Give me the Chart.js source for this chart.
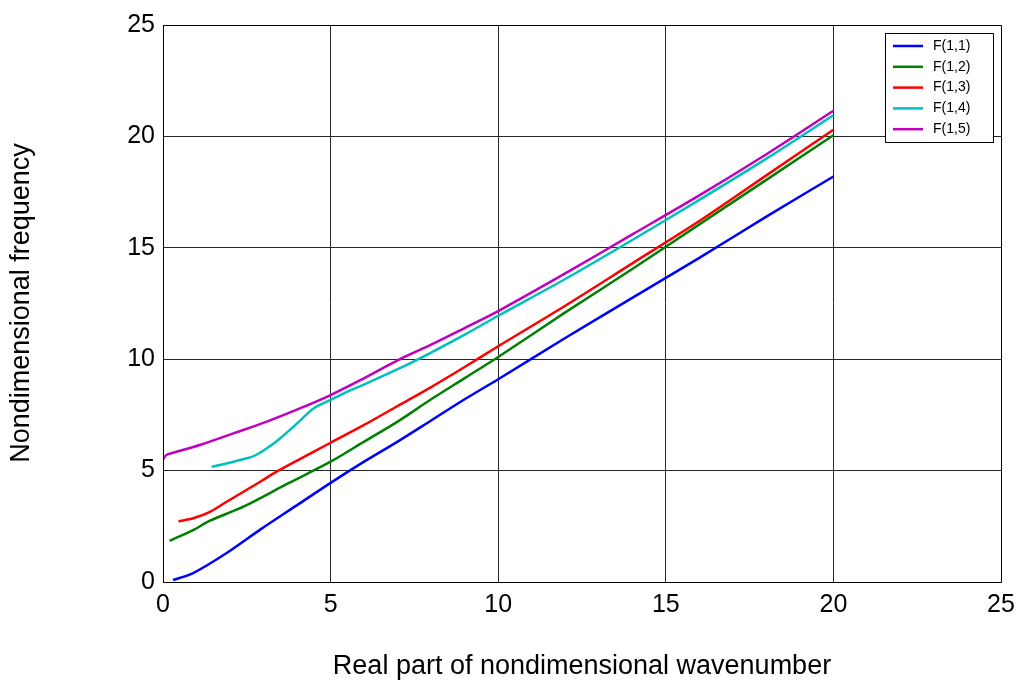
<!DOCTYPE html>
<html>
<head>
<meta charset="utf-8">
<script src="https://cdn.jsdelivr.net/npm/chart.js@4/dist/chart.umd.min.js"></script>
<style>
  html, body { margin: 0; padding: 0; background: #fff; }
  #wrap { width: 1019px; height: 684px; }
</style>
</head>
<body>
<div id="wrap"><canvas id="freqChart"></canvas></div>
<script>
// values
const xTicks = [0, 5, 10, 15, 20, 25];
const yTicks = [0, 5, 10, 15, 20, 25];

const labels = ["F(1,1)", "F(1,2)", "F(1,3)", "F(1,4)", "F(1,5)"];
const colors = ["#0000ff", "#008000", "#ff0000", "#00bfbf", "#bf00bf"];

const f11x = [0.3, 0.9, 1.9, 2.9, 4, 5, 6, 7, 8, 9, 10, 12, 14, 16, 18, 20];
const f11y = [0.09, 0.4, 1.3, 2.35, 3.45, 4.45, 5.4, 6.3, 7.25, 8.2, 9.1, 10.95, 12.75, 14.55, 16.4, 18.2];

const f12x = [0.2, 0.9, 1.4, 2.4, 3.7, 5, 6, 7, 8, 9, 10, 12, 14, 16, 18, 20];
const f12y = [1.85, 2.33, 2.75, 3.38, 4.4, 5.4, 6.3, 7.2, 8.2, 9.15, 10.1, 12.1, 14.05, 16.05, 18.05, 20.05];

const f13x = [0.46, 0.9, 1.4, 1.9, 2.4, 2.9, 3.35, 4, 5, 6, 7, 8, 9, 10, 12, 14, 16, 18, 20];
const f13y = [2.72, 2.86, 3.15, 3.6, 4.05, 4.5, 4.92, 5.45, 6.25, 7.05, 7.9, 8.75, 9.65, 10.58, 12.4, 14.3, 16.2, 18.25, 20.3];

const f14x = [1.45, 2.1, 2.7, 3.1, 3.5, 4, 4.5, 5, 5.5, 5.9, 7, 8, 9, 10, 12, 14, 16, 18, 20];
const f14y = [5.17, 5.4, 5.65, 6.0, 6.45, 7.12, 7.8, 8.17, 8.54, 8.8, 9.55, 10.3, 11.1, 11.95, 13.6, 15.35, 17.15, 19.0, 20.95];

const f15x = [0, 0.1, 0.3, 1.1, 2.1, 3.1, 4.1, 5, 5.9, 7, 8, 9, 10, 12, 14, 16, 18, 20];
const f15y = [5.5, 5.7, 5.8, 6.15, 6.67, 7.2, 7.8, 8.39, 9.07, 9.95, 10.65, 11.4, 12.16, 13.85, 15.6, 17.35, 19.2, 21.15];

const seriesX = [f11x, f12x, f13x, f14x, f15x];
const seriesY = [f11y, f12y, f13y, f14y, f15y];

const datasets = labels.map((name, i) => ({
  label: name,
  data: seriesX[i].map((x, j) => ({ x: x, y: seriesY[i][j] })),
  borderColor: colors[i],
  backgroundColor: colors[i],
  borderWidth: 2.5,
  pointRadius: 0,
  showLine: true,
  tension: 0.3,
}));

const FONT = "Arial, 'Liberation Sans', sans-serif";

// frame, axis titles and MATLAB style legend box
const decorations = {
  id: "decorations",
  afterDraw(chart) {
    const ctx = chart.ctx;
    const a = chart.chartArea;
    ctx.save();
    ctx.strokeStyle = "#000";
    ctx.lineWidth = 1;
    ctx.strokeRect(a.left + 0.5, a.top + 0.5, a.right - a.left, a.bottom - a.top);

    ctx.fillStyle = "#000";
    ctx.font = "27px " + FONT;
    ctx.textAlign = "center";
    ctx.textBaseline = "middle";
    ctx.fillText("Real part of nondimensional wavenumber", 582, 667);
    ctx.translate(22, 303);
    ctx.rotate(-Math.PI / 2);
    ctx.fillText("Nondimensional frequency", 0, 0);
    ctx.restore();

    // legend
    ctx.save();
    const bx = 885, by = 33, bw = 108, bh = 109;
    ctx.fillStyle = "#fff";
    ctx.fillRect(bx, by, bw, bh);
    ctx.strokeStyle = "#000";
    ctx.lineWidth = 1;
    ctx.strokeRect(bx + 0.5, by + 0.5, bw, bh);
    ctx.font = "14px " + FONT;
    ctx.textAlign = "left";
    ctx.textBaseline = "middle";
    chart.data.datasets.forEach((ds, i) => {
      const yy = by + 13 + i * 20.8;
      ctx.strokeStyle = ds.borderColor;
      ctx.lineWidth = 2.5;
      ctx.beginPath();
      ctx.moveTo(bx + 8, yy);
      ctx.lineTo(bx + 38, yy);
      ctx.stroke();
      ctx.fillStyle = "#000";
      ctx.fillText(ds.label, bx + 48, yy);
    });
    ctx.restore();
  },
};

new Chart(document.getElementById("freqChart"), {
  type: "scatter",
  data: { datasets: datasets },
  options: {
    responsive: true,
    maintainAspectRatio: false,
    animation: false,
    layout: { padding: { top: 25, right: 18, left: 0, bottom: 0 } },
    plugins: {
      legend: { display: false },
      tooltip: { enabled: false },
    },
    scales: {
      x: {
        type: "linear",
        min: 0,
        max: 25,
        afterBuildTicks: (s) => { s.ticks = xTicks.map((v) => ({ value: v })); },
        afterFit: (s) => { s.height = 102; s.paddingLeft = 0; s.paddingRight = 0; },
        grid: { color: "#262626", lineWidth: 1, drawTicks: false },
        border: { display: false },
        ticks: {
          color: "#000",
          padding: 8,
          font: { size: 25, family: FONT },
          maxRotation: 0,
        },
      },
      y: {
        type: "linear",
        min: 0,
        max: 25,
        afterBuildTicks: (s) => { s.ticks = yTicks.map((v) => ({ value: v })); },
        afterFit: (s) => { s.width = 163; s.paddingTop = 0; s.paddingBottom = 0; },
        grid: { color: "#262626", lineWidth: 1, drawTicks: false },
        border: { display: false },
        ticks: {
          color: "#000",
          padding: 8,
          font: { size: 25, family: FONT },
        },
      },
    },
  },
  plugins: [decorations],
});
</script>
</body>
</html>
